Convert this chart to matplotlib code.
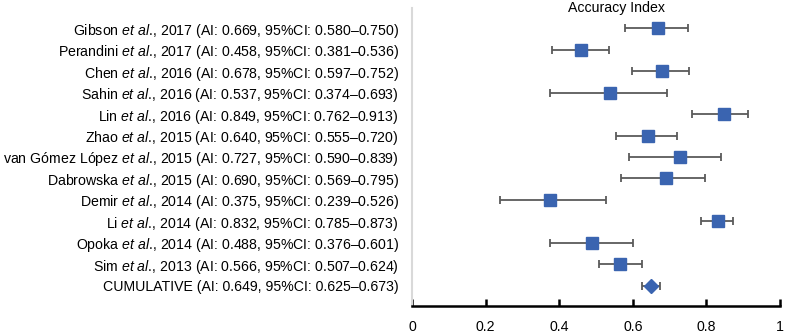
import matplotlib
matplotlib.use("Agg")
import numpy as np
from matplotlib import pyplot as plt

plt.rcParams["font.family"] = ["Liberation Sans", "DejaVu Sans"]
plt.rcParams["mathtext.fontset"] = "custom"
plt.rcParams["mathtext.it"] = "Liberation Sans:italic"
plt.rcParams["mathtext.rm"] = "Liberation Sans"

authors = ["Gibson", "Perandini", "Chen", "Sahin", "Lin", "Zhao",
           "van Gómez López", "Dabrowska", "Demir", "Li", "Opoka", "Sim"]
years = [2017, 2017, 2016, 2016, 2016, 2015, 2015, 2015, 2014, 2014, 2014, 2013]
ai = [0.669, 0.458, 0.678, 0.537, 0.849, 0.640, 0.727, 0.690, 0.375, 0.832, 0.488, 0.566]
ci_low = [0.580, 0.381, 0.597, 0.374, 0.762, 0.555, 0.590, 0.569, 0.239, 0.785, 0.376, 0.507]
ci_high = [0.750, 0.536, 0.752, 0.693, 0.913, 0.720, 0.839, 0.795, 0.526, 0.873, 0.601, 0.624]
cum_ai, cum_low, cum_high = 0.649, 0.625, 0.673
x_ticks = [0, 0.2, 0.4, 0.6, 0.8, 1]

blue = "#3a64b0"
grey = "#5a5a5a"

labels = []
for a, y, v, lo, hi in zip(authors, years, ai, ci_low, ci_high):
    # dot kept outside mathtext, otherwise it gets punctuation spacing
    labels.append(a + r" $\mathit{et\ al}$" + "., %d (AI: %.3f, 95%%CI: %.3f\u2013%.3f)" % (y, v, lo, hi))
labels.append("CUMULATIVE (AI: %.3f, 95%%CI: %.3f\u2013%.3f)" % (cum_ai, cum_low, cum_high))

fig = plt.figure(figsize=(7.9, 3.36), dpi=100)
ax = fig.add_axes([412 / 790, 30 / 336, 368 / 790, 298 / 336])

pos = np.arange(1, len(ai) + 1)
ai = np.array(ai)
err = [ai - np.array(ci_low), np.array(ci_high) - ai]
ax.errorbar(ai, pos, xerr=err, fmt="s", color=blue, ms=8, ecolor=grey,
            elinewidth=1.3, capsize=3, capthick=1.3, zorder=3)
cpos = len(ai) + 1
ax.errorbar([cum_ai], [cpos], xerr=[[cum_ai - cum_low], [cum_high - cum_ai]],
            fmt="D", color=blue, ms=7, ecolor=grey, elinewidth=1.3,
            capsize=3, capthick=1.3, zorder=3)

ax.set_xlim(0, 1)
ax.set_ylim(cpos + 0.95, 0.05)
ax.set_yticks(list(pos) + [cpos])
ax.set_yticklabels(labels, fontsize=10.2)
ax.tick_params(axis="y", length=0, pad=9.5)
ax.set_xticks(x_ticks)
ax.set_xticklabels([("%g" % t) for t in x_ticks], fontsize=10.2)
ax.tick_params(axis="x", direction="in", length=5, width=1.8, pad=10)

for s in ["top", "right"]:
    ax.spines[s].set_visible(False)
ax.spines["left"].set_color("#d9d9d9")
ax.spines["left"].set_linewidth(1.5)
ax.spines["bottom"].set_linewidth(1.8)

fig.text(617 / 790, 1 - 8 / 336, "Accuracy Index", ha="center", va="center", fontsize=10.2)

fig.savefig("out.png", dpi=100)
